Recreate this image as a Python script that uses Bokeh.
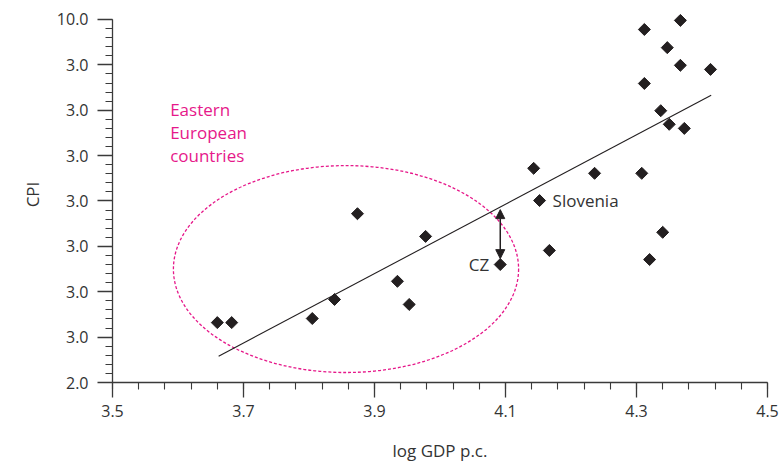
import numpy as np
from bokeh.plotting import figure
from bokeh.models import FixedTicker, Arrow, NormalHead
from bokeh.core.properties import value
from bokeh.embed import file_html
from bokeh.resources import INLINE

# ---- data ----
gdp = [3.660, 3.682, 3.805, 3.839, 3.874, 3.935, 3.953, 3.978, 4.092, 4.143,
       4.152, 4.167, 4.236, 4.308, 4.312, 4.312, 4.320, 4.337, 4.340, 4.347,
       4.350, 4.367, 4.367, 4.373, 4.413]
cpi = [3.32, 3.32, 3.41, 3.83, 5.72, 4.23, 3.72, 5.22, 4.60, 6.72,
       6.01, 4.91, 6.61, 6.61, 9.78, 8.59, 4.71, 7.99, 5.31, 9.38,
       7.69, 9.98, 8.99, 7.60, 8.90]

fit_x = [3.662, 4.414]
fit_y = [2.58, 8.33]

cz_x = [4.092]
cz_y = [4.60]
arrow_top = [5.81]
arrow_bottom = [4.73]
slovenia_x = [4.152]
slovenia_y = [6.01]

ellipse_x = [3.8565]
ellipse_y = [4.50]
ellipse_w = [0.527]
ellipse_h = [4.56]

group_label = ["Eastern\nEuropean\ncountries"]
group_label_x = [3.588]
group_label_y = [8.26]

x_ticks = [3.5, 3.7, 3.9, 4.1, 4.3, 4.5]
y_ticks = [2, 3, 4, 5, 6, 7, 8, 9, 10]
y_tick_labels = ["2.0", "3.0", "3.0", "3.0", "3.0", "3.0", "3.0", "3.0", "10.0"]

FONT = "Open Sans"
DARK = "#231f20"
AXIS = "#3a3a3a"
MAGENTA = "#E6188A"

# a little headroom above 10 so the top marker is not clipped;
# the axis line itself is bounded to 2..10
p = figure(width=781, height=464, x_range=(3.5, 4.5), y_range=(2, 10.2865),
           output_backend="svg", toolbar_location=None,
           min_border_left=112, min_border_right=14,
           min_border_top=6, min_border_bottom=82)
p.outline_line_color = None
p.grid.visible = False
p.background_fill_color = "white"

x_minor = list(np.round(np.arange(3.5, 4.5001, 0.04), 2))
y_minor = list(np.round(np.arange(2.0, 10.0001, 0.2), 1))
p.xaxis.ticker = FixedTicker(ticks=x_ticks, minor_ticks=x_minor)
p.yaxis.ticker = FixedTicker(ticks=y_ticks, minor_ticks=y_minor)
p.yaxis.major_label_overrides = {t: l for t, l in zip(y_ticks, y_tick_labels)}
p.yaxis.bounds = (2, 10)
p.xaxis.bounds = (3.5, 4.5)

for ax in (p.xaxis, p.yaxis):
    ax.axis_line_color = AXIS
    ax.axis_line_width = 1.3
    ax.major_tick_line_color = AXIS
    ax.minor_tick_line_color = AXIS
    ax.major_tick_line_width = 1.3
    ax.minor_tick_line_width = 1.1
    ax.major_tick_in = 0
    ax.major_tick_out = 15
    ax.minor_tick_in = 0
    ax.minor_tick_out = 7
    ax.major_label_text_font = FONT
    ax.major_label_text_font_size = "16px"
    ax.major_label_text_color = "#333333"
    ax.axis_label_text_font = FONT
    ax.axis_label_text_font_size = "17px"
    ax.axis_label_text_font_style = "normal"
    ax.axis_label_text_color = "#333333"

p.xaxis.axis_label = "log GDP p.c."
p.yaxis.axis_label = "CPI"
p.xaxis.major_label_standoff = 7
p.yaxis.major_label_standoff = 9
p.xaxis.axis_label_standoff = 19
p.yaxis.axis_label_standoff = 10

# ellipse
p.ellipse(x=ellipse_x, y=ellipse_y, width=ellipse_w, height=ellipse_h,
          fill_color=None, line_color=MAGENTA, line_dash="3 2", line_width=1.3)

# regression line
p.line(fit_x, fit_y, line_color=DARK, line_width=1.1)

# points
p.scatter(gdp, cpi, marker="square", angle=np.pi / 4, size=8.5,
          fill_color=DARK, line_color=DARK)

# CZ arrow
head = dict(size=9, fill_color=DARK, line_color=DARK)
p.add_layout(Arrow(start=NormalHead(**head), end=NormalHead(**head),
                   x_start=cz_x[0], y_start=arrow_bottom[0],
                   x_end=cz_x[0], y_end=arrow_top[0],
                   line_color=DARK, line_width=1.5))

# labels
p.text(cz_x, cz_y, text=["CZ"], x_offset=-11, text_align="right",
       text_baseline="middle", text_font=value(FONT), text_font_size="17px",
       text_color="#333333")
p.text(slovenia_x, slovenia_y, text=["Slovenia"], x_offset=13, text_align="left",
       text_baseline="middle", text_font=value(FONT), text_font_size="17px",
       text_color="#333333")
p.text(group_label_x, group_label_y, text=group_label, text_align="left",
       text_baseline="top", text_font=value(FONT), text_font_size="17px",
       text_color=MAGENTA, text_line_height=1.0)

open("out.html", "w").write(file_html(p, INLINE))
